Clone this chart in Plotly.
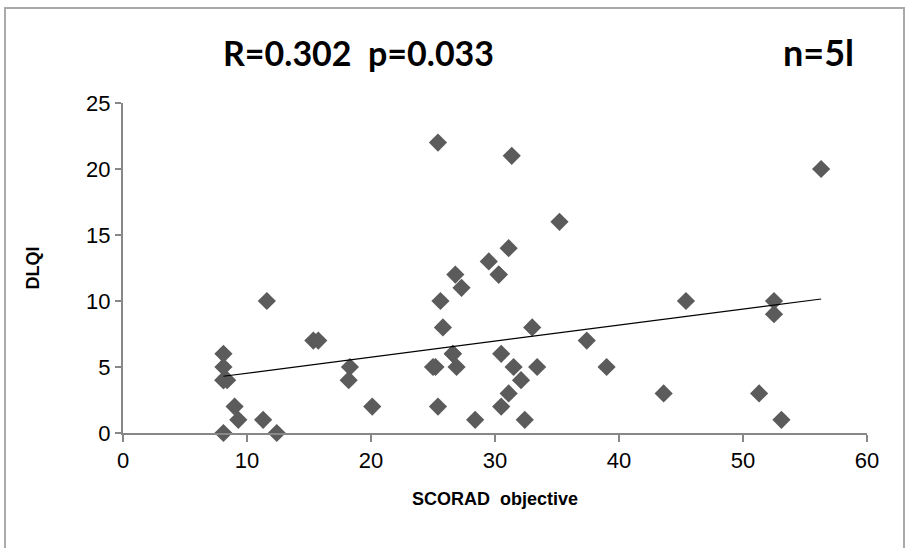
import plotly.graph_objects as go

# SCORAD objective (x) vs DLQI (y)
scorad = [8.1, 8.1, 8.1, 8.4, 9.0, 9.3, 8.1, 11.6, 11.3, 12.4, 15.35, 15.75, 18.3, 18.2,
          25.4, 31.35, 35.2, 31.1, 29.5, 30.3, 26.8, 27.3, 25.6, 25.8, 33.0, 37.4,
          26.6, 30.5, 25.2, 25.0, 26.9, 31.5, 33.4, 39.0, 32.1, 31.1, 30.5, 25.4, 20.1,
          28.4, 32.4, 26.6, 56.3, 45.4, 52.5, 52.5, 43.6, 51.3, 53.1, 8.1, 30.3]
dlqi = [6, 5, 4, 4, 2, 1, 0, 10, 1, 0, 7, 7, 5, 4,
        22, 21, 16, 14, 13, 12, 12, 11, 10, 8, 8, 7,
        6, 6, 5, 5, 5, 5, 5, 5, 4, 3, 2, 2, 2,
        1, 1, 6, 20, 10, 10, 9, 3, 3, 1, 4, 12]

trend_x = [8.1, 56.3]
trend_y = [4.3, 10.15]

x_ticks = [0, 10, 20, 30, 40, 50, 60]
y_ticks = [0, 5, 10, 15, 20, 25]

title_stats = "R=0.302\u00a0\u00a0p=0.033"
title_n = "n=5l"
x_title = "SCORAD\u00a0\u00a0objective"
y_title = "DLQI"

W, H = 910, 548
L, R, T, B = 123, 43, 103, 115
pw, ph = W - L - R, H - T - B

def px(xp):
    return (xp - L) / pw

def py(yp):
    return (H - B - yp) / ph

fig = go.Figure()
fig.add_trace(go.Scatter(x=scorad, y=dlqi, mode="markers",
                         marker=dict(symbol="diamond", size=14, color="#5b5b5b",
                                     line=dict(width=0)),
                         showlegend=False, cliponaxis=False))
fig.add_trace(go.Scatter(x=trend_x, y=trend_y, mode="lines",
                         line=dict(color="black", width=1.2), showlegend=False))

axis_col = "#878787"
fig.update_layout(
    width=W, height=H,
    margin=dict(l=L, r=R, t=T, b=B, pad=0),
    paper_bgcolor="white", plot_bgcolor="white",
    font=dict(family="Liberation Sans, Arial, sans-serif", color="black", size=20),
    xaxis=dict(range=[0, 60], tickvals=x_ticks, showgrid=False, zeroline=False,
               showline=True, linecolor=axis_col, linewidth=2,
               ticks="outside", ticklen=7, tickwidth=2, tickcolor=axis_col,
               tickfont=dict(size=22),
               title=dict(text=x_title, font=dict(size=18, family="Liberation Sans, Arial", weight="bold"),
                          standoff=20)),
    yaxis=dict(range=[0, 25], tickvals=y_ticks, showgrid=False, zeroline=False,
               showline=True, linecolor=axis_col, linewidth=2,
               ticks="outside", ticklen=6, tickwidth=2, tickcolor=axis_col,
               tickfont=dict(size=22),
               title=dict(text=y_title, font=dict(size=18, family="Liberation Sans, Arial", weight="bold"),
                          standoff=42)),
    shapes=[dict(type="rect", xref="paper", yref="paper",
                 x0=px(5), x1=px(904), y0=py(600), y1=py(8),
                 line=dict(color="#aaaaaa", width=2), fillcolor="rgba(0,0,0,0)", layer="below")],
    annotations=[
        dict(text=title_stats, xref="paper", yref="paper", x=px(358), y=py(52),
             showarrow=False, xanchor="center", yanchor="middle",
             font=dict(family="Lato, Open Sans, sans-serif", size=34, weight="bold")),
        dict(text=title_n, xref="paper", yref="paper", x=px(818), y=py(52),
             showarrow=False, xanchor="center", yanchor="middle",
             font=dict(family="Lato, Open Sans, sans-serif", size=36, weight="bold")),
    ],
)

fig.write_html("out.html")
